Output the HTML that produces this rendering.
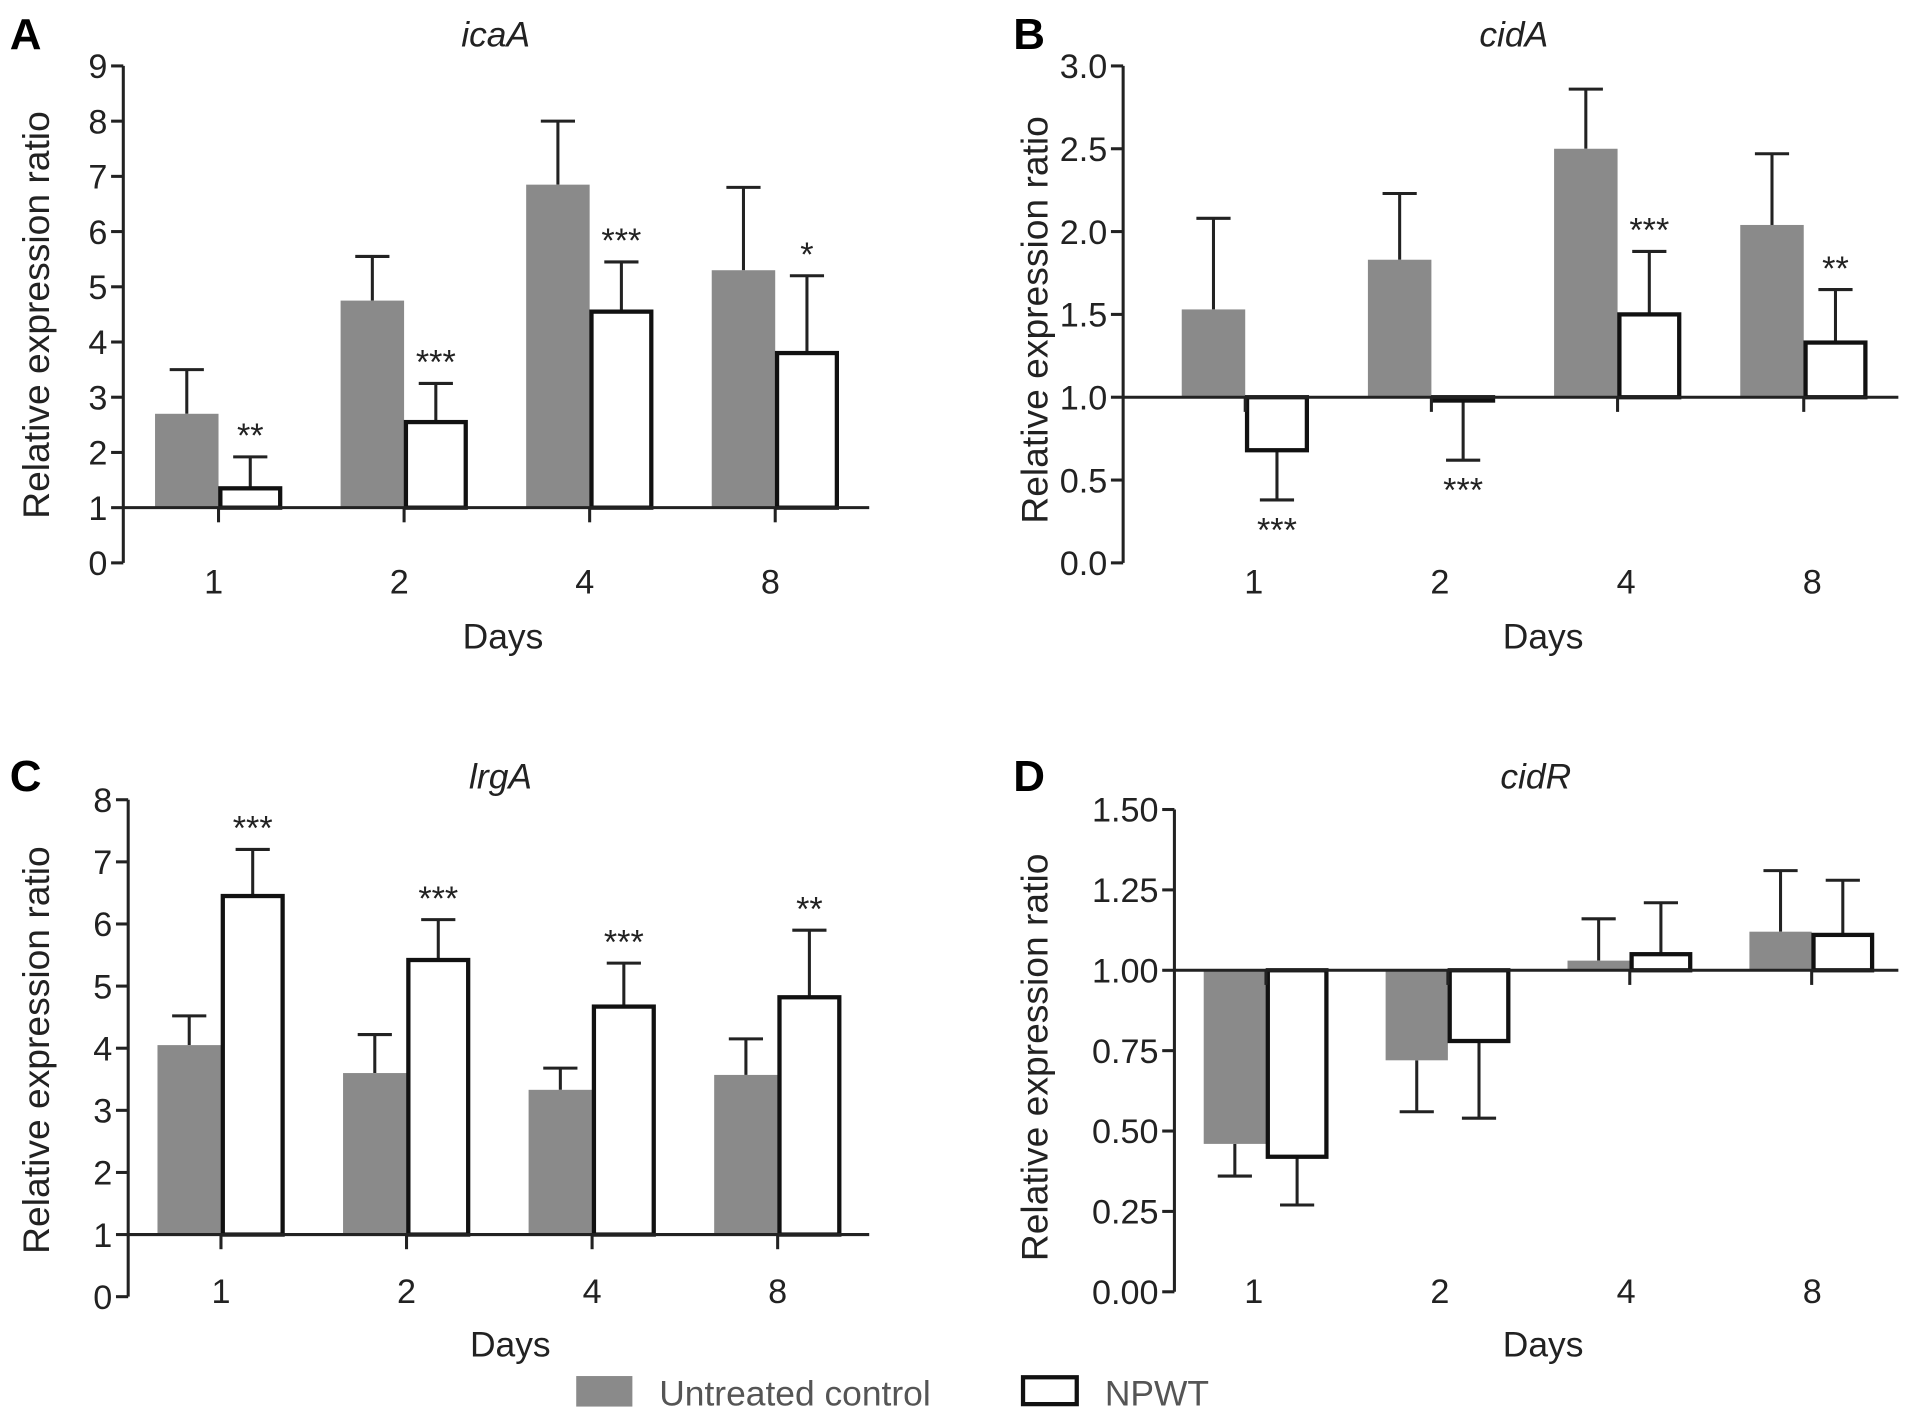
<!DOCTYPE html>
<html><head><meta charset="utf-8"><style>
html,body{margin:0;padding:0;background:#fff;}
svg{display:block;font-family:"Liberation Sans",sans-serif;}
</style></head><body>
<svg id="fig" width="1913" height="1420" viewBox="0 0 1567 1163" preserveAspectRatio="none"></svg>
<script>
const categories = ["1","2","4","8"];
const icaControl = [2.7, 4.75, 6.85, 5.3];
const icaControlErr = [3.5, 5.55, 8.0, 6.8];
const icaNpwt = [1.35, 2.55, 4.55, 3.8];
const icaNpwtErr = [1.92, 3.25, 5.45, 5.2];
const icaStars = ["**","***","***","*"];
const icaTicks = ["0","1","2","3","4","5","6","7","8","9"];

const cidAControl = [1.53, 1.83, 2.5, 2.04];
const cidAControlErr = [2.08, 2.23, 2.86, 2.47];
const cidANpwt = [0.68, 0.98, 1.5, 1.33];
const cidANpwtErr = [0.38, 0.62, 1.88, 1.65];
const cidAStars = ["***","***","***","**"];
const cidATicks = ["0.0","0.5","1.0","1.5","2.0","2.5","3.0"];

const lrgControl = [4.05, 3.6, 3.33, 3.57];
const lrgControlErr = [4.52, 4.22, 3.68, 4.15];
const lrgNpwt = [6.45, 5.42, 4.67, 4.82];
const lrgNpwtErr = [7.2, 6.07, 5.37, 5.9];
const lrgStars = ["***","***","***","**"];
const lrgTicks = ["0","1","2","3","4","5","6","7","8"];

const cidRControl = [0.46, 0.72, 1.03, 1.12];
const cidRControlErr = [0.36, 0.56, 1.16, 1.31];
const cidRNpwt = [0.42, 0.78, 1.05, 1.11];
const cidRNpwtErr = [0.27, 0.54, 1.21, 1.28];
const cidRStars = ["","","",""];
const cidRTicks = ["0.00","0.25","0.50","0.75","1.00","1.25","1.50"];

const NS = "http://www.w3.org/2000/svg";
const svg = document.getElementById("fig");
function mk(tag, attrs, parent, text){
  const e = document.createElementNS(NS, tag);
  for (const k in attrs) e.setAttribute(k, attrs[k]);
  if (text !== undefined) e.textContent = text;
  (parent||svg).appendChild(e);
  return e;
}

function panel(o){
  const g = mk("g", {});
  
  
  const ticks = o.ticks;
  const vmin = parseFloat(ticks[0]), vmax = parseFloat(ticks[ticks.length-1]);
  const y = v => o.y0 - (v - vmin) / (vmax - vmin) * (o.y0 - o.y1);
  const x = i => o.c0 + i * o.step;
  const L = mk("text", {x:o.lx, y:o.ly, "font-size":36, "font-weight":"bold"}, g, o.letter);
  
  
  const T = mk("text", {x:o.tx, y:o.ly-2, "font-size":29, "font-style":"italic", "text-anchor":"middle", fill:"#222"}, g, o.title);
  
  
  const ya = mk("line", {x1:o.ax, y1:y(vmax), x2:o.ax, y2:y(vmin), stroke:"#222", "stroke-width":2.5}, g);
  
  
  ticks.forEach(t => {
    const v = parseFloat(t);
    mk("line", {x1:o.ax-10, y1:y(v), x2:o.ax, y2:y(v), stroke:"#222", "stroke-width":2.5}, g);
    const tl = mk("text", {x:o.ax-13, y:y(v)+10, "font-size":28, "text-anchor":"end", fill:"#222"}, g, t);
    
    
  });
  const yl = mk("text", {transform:`translate(${o.ylx},${o.ylc}) rotate(-90)`, "font-size":30.5, "text-anchor":"middle", fill:"#222"}, g, "Relative expression ratio");
  
  
  const yb = y(o.base);
  const bw = o.bw;
  categories.forEach((c, i) => {
    const cx = x(i);
    const series = [[o.ctrl[i], o.ctrlErr[i], "#8a8a8a", cx - bw, 'bar-control'],[o.npwt[i], o.npwtErr[i], "#fff", cx, 'bar-npwt']];
    series.forEach(([v, e, fill, left, nm], si) => {
      const top = Math.min(y(v), yb), h = Math.abs(y(v) - yb);
      const mid = left + bw/2;
      mk("line", {x1:mid, y1:y(v), x2:mid, y2:y(e), stroke:"#222", "stroke-width":2.5}, g);
      mk("line", {x1:mid-14, y1:y(e), x2:mid+14, y2:y(e), stroke:"#222", "stroke-width":2.5}, g);
      const r = mk("rect", si===0 ? {x:left, y:top, width:bw, height:h, fill:fill} :
        {x:left+1.5, y:top, width:bw-3, height:h, fill:fill, stroke:"#111", "stroke-width":3.5}, g);
      
      
    });
    mk("line", {x1:cx, y1:yb, x2:cx, y2:yb+12, stroke:"#222", "stroke-width":2.5}, g);
    const xl = mk("text", {x:o.l0 + i * o.lstep, y:o.xly, "font-size":28, "text-anchor":"middle", fill:"#222"}, g, c);
    
    
    const s = o.stars[i];
    if (s) {
      const nv = o.npwt[i], ne = o.npwtErr[i];
      const sy = ne < nv ? y(ne) + 34 : y(ne) - 8;
      const st = mk("text", {x:cx + bw/2, y:sy, "font-size":28, "text-anchor":"middle", fill:"#222"}, g, s);
      
      
    }
  });
  const xa = mk("line", {x1:o.ax, y1:yb, x2:o.xend, y2:yb, stroke:"#222", "stroke-width":2.5}, g);
  
  
  const xt = mk("text", {x:o.dx, y:o.dy, "font-size":29, "text-anchor":"middle", fill:"#222"}, g, "Days");
  
  
}

panel({name:"panel-a-icaA", letter:"A", title:"icaA", lx:8, ly:40, tx:406, ax:101, xend:712, y0:461, y1:54, ticks:icaTicks, base:1,
  c0:179, step:152, bw:52, ctrl:icaControl, ctrlErr:icaControlErr, npwt:icaNpwt, npwtErr:icaNpwtErr, stars:icaStars, ylx:40, ylc:258,
  l0:175, lstep:152, xly:486, dx:412, dy:531});
panel({name:"panel-b-cidA", letter:"B", title:"cidA", lx:830, ly:40, tx:1240, ax:920, xend:1555, y0:461, y1:54, ticks:cidATicks, base:1,
  c0:1020, step:152.5, bw:52, ctrl:cidAControl, ctrlErr:cidAControlErr, npwt:cidANpwt, npwtErr:cidANpwtErr, stars:cidAStars, ylx:858, ylc:262,
  l0:1027, lstep:152.5, xly:486, dx:1264, dy:531});
panel({name:"panel-c-lrgA", letter:"C", title:"lrgA", lx:8, ly:648, tx:410, ax:105, xend:712, y0:1062, y1:655, ticks:lrgTicks, base:1,
  c0:181, step:152, bw:52, ctrl:lrgControl, ctrlErr:lrgControlErr, npwt:lrgNpwt, npwtErr:lrgNpwtErr, stars:lrgStars, ylx:40, ylc:860,
  l0:181, lstep:152, xly:1067, dx:418, dy:1111});
panel({name:"panel-d-cidR", letter:"D", title:"cidR", lx:830, ly:648, tx:1258, ax:962, xend:1555, y0:1058, y1:663, ticks:cidRTicks, base:1,
  c0:1037, step:149, bw:51, ctrl:cidRControl, ctrlErr:cidRControlErr, npwt:cidRNpwt, npwtErr:cidRNpwtErr, stars:cidRStars, ylx:858, ylc:866,
  l0:1027, lstep:152.5, xly:1067, dx:1264, dy:1111});

const lg = mk("g", {});


const le1 = mk("g", {}, lg);


mk("rect", {x:472, y:1127, width:46, height:25, fill:"#8a8a8a"}, le1);
mk("text", {x:540, y:1151, "font-size":29, fill:"#555"}, le1, "Untreated control");
const le2 = mk("g", {}, lg);


mk("rect", {x:838, y:1128, width:44, height:22, fill:"#fff", stroke:"#111", "stroke-width":3.5}, le2);
mk("text", {x:905, y:1151, "font-size":29, fill:"#555"}, le2, "NPWT");
</script>
</body></html>
